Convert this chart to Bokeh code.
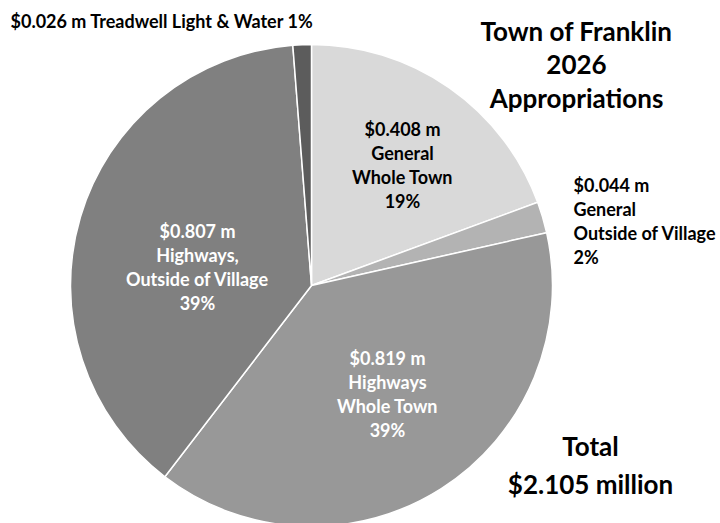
import math
from bokeh.plotting import figure
from bokeh.models import Range1d, ColumnDataSource
from bokeh.core.properties import value
from bokeh.embed import file_html
from bokeh.resources import INLINE

# ---- data ----
categories = ["General Whole Town", "General Outside of Village",
              "Highways Whole Town", "Highways, Outside of Village",
              "Treadwell Light & Water"]
amounts = [0.408, 0.044, 0.819, 0.807, 0.026]   # $ million
percents = [19, 2, 39, 39, 1]
label_names = [["General", "Whole Town"],
               ["General", "Outside of Village"],
               ["Highways", "Whole Town"],
               ["Highways,", "Outside of Village"],
               ["Treadwell Light & Water"]]
total_million = 2.105
title_lines = ["Town of Franklin", "2026", "Appropriations"]

# ---- styles ----
colors = ["#d9d9d9", "#b3b3b3", "#989898", "#808080", "#5c5c5c"]
text_colors = ["#000000", "#000000", "#ffffff", "#ffffff", "#000000"]
FONT = "Lato"

W, H = 720, 523
p = figure(width=W, height=H, output_backend="svg", toolbar_location=None,
           x_range=Range1d(0, W), y_range=Range1d(-H, 0),
           min_border=0, background_fill_color="white")
p.xaxis.visible = False
p.yaxis.visible = False
p.grid.visible = False
p.outline_line_color = None

cx, cy, r = 311, -285, 241
tot = sum(amounts)
starts, ends = [], []
cum = 0.0
for a in amounts:
    starts.append(math.pi / 2 - cum / tot * 2 * math.pi)
    cum += a
    ends.append(math.pi / 2 - cum / tot * 2 * math.pi)

src = ColumnDataSource(dict(x=[cx] * len(amounts), y=[cy] * len(amounts),
                            start=starts, end=ends, color=colors, cat=categories))
p.wedge(x="x", y="y", radius=r, start_angle="start", end_angle="end",
        direction="clock", fill_color="color", line_color="white",
        line_width=1.5, source=src)

# ---- labels ----
anchors = [(402, 128, "center"), (573, 184, "left"), (387, 357, "center"),
           (197, 230, "center"), (10, 20, "left")]
LS = 24
tx, ty, tt, tc, ta = [], [], [], [], []
for i in range(len(amounts)):
    money = "$%.3f m" % amounts[i]
    pct = "%d%%" % percents[i]
    if len(label_names[i]) == 1:
        lines = ["%s %s %s" % (money, label_names[i][0], pct)]
    else:
        lines = [money] + label_names[i] + [pct]
    ax, ay, al = anchors[i]
    for k, ln in enumerate(lines):
        tx.append(ax)
        ty.append(-(ay + k * LS))
        tt.append(ln)
        tc.append(text_colors[i])
        ta.append(al)
lsrc = ColumnDataSource(dict(x=tx, y=ty, t=tt, c=tc, a=ta))
p.text(x="x", y="y", text="t", text_color="c", text_align="a",
       text_baseline="middle", text_font=value(FONT), text_font_style="bold",
       text_font_size="18px", source=lsrc)

# title
p.text(x=[576] * 3, y=[-30, -63.5, -97], text=title_lines, text_align="center",
       text_baseline="middle", text_font=value(FONT), text_font_style="bold",
       text_font_size="26px", text_color="#000000")
# total
p.text(x=[590, 590], y=[-445, -483],
       text=["Total", "$%.3f million" % total_million], text_align="center",
       text_baseline="middle", text_font=value(FONT), text_font_style="bold",
       text_font_size="26px", text_color="#000000")

open("out.html", "w").write(file_html(p, INLINE))
